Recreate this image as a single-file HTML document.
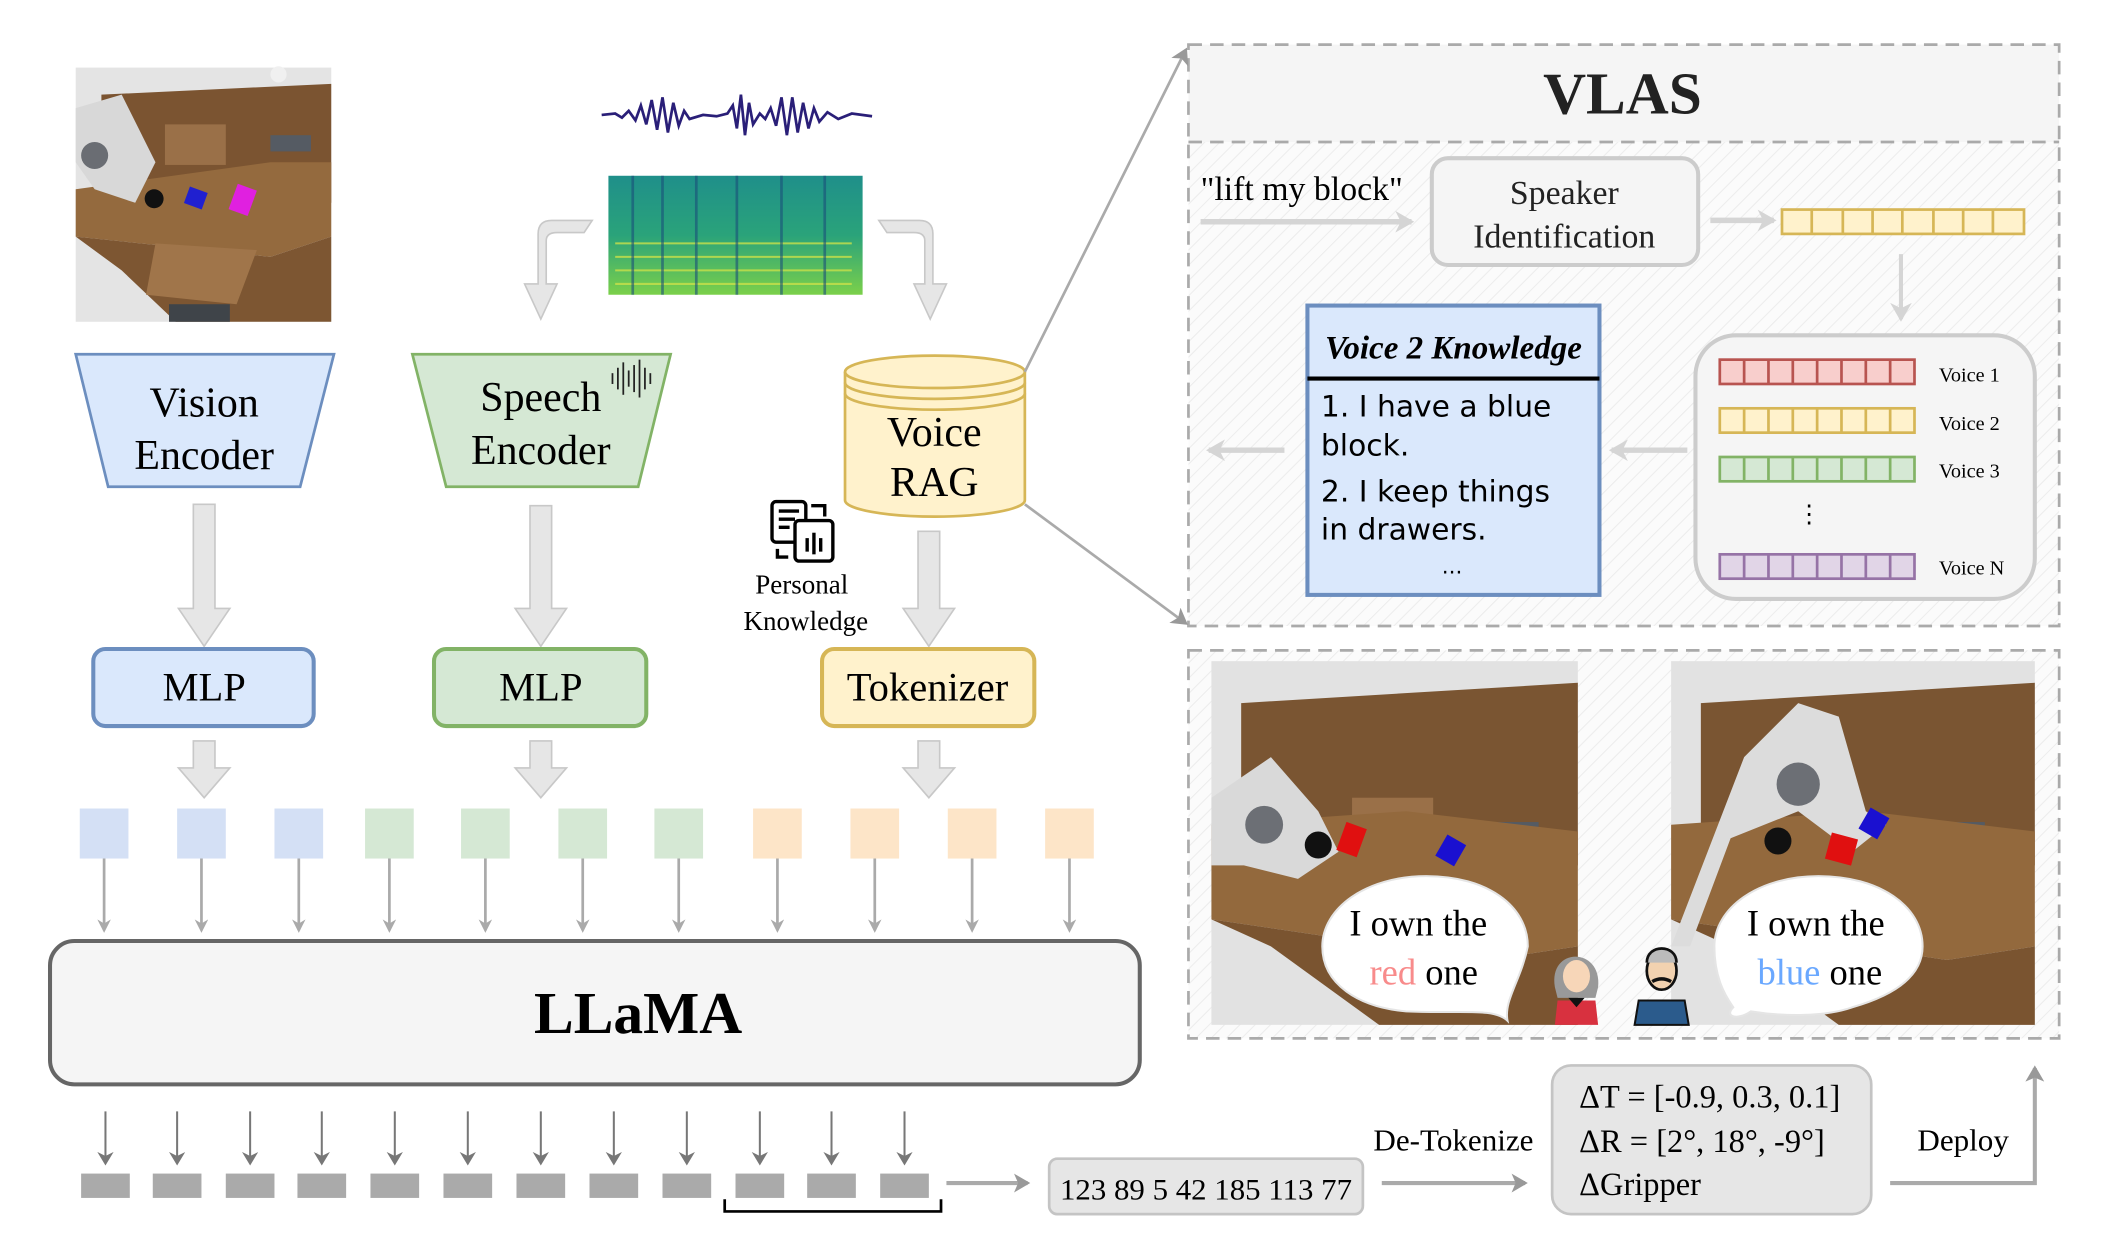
<!DOCTYPE html>
<html><head><meta charset="utf-8"><style>
html,body{margin:0;padding:0;background:#fff;}
svg{display:block;}
text{font-family:"Liberation Serif",serif;}
</style></head><body>
<svg width="2120" height="1252" viewBox="0 0 1568 926" preserveAspectRatio="none" xmlns="http://www.w3.org/2000/svg">
<defs>
<pattern id="hatch" width="8" height="8" patternUnits="userSpaceOnUse" patternTransform="rotate(45)">
<rect width="8" height="8" fill="#fbfbfb"/><line x1="0" y1="0" x2="0" y2="8" stroke="#ececec" stroke-width="1.5"/>
</pattern>
<linearGradient id="spec" x1="0" y1="0" x2="0" y2="1">
<stop offset="0" stop-color="#1f8f8a"/><stop offset="0.5" stop-color="#2aa37a"/><stop offset="1" stop-color="#7bd04a"/>
</linearGradient>
<marker id="ah" markerWidth="10" markerHeight="10" refX="8" refY="5" orient="auto" markerUnits="userSpaceOnUse"><path d="M0,0 L10,5 L0,10 L3,5 Z" fill="#aaa"/></marker>
<marker id="ahd" markerWidth="10" markerHeight="12" refX="8" refY="6" orient="auto" markerUnits="userSpaceOnUse"><path d="M0,0 L10,6 L0,12 L3,6 Z" fill="#777"/></marker>
<marker id="ahl" markerWidth="16" markerHeight="16" refX="12" refY="8" orient="auto" markerUnits="userSpaceOnUse"><path d="M0,0 L14,8 L0,16 L4,8 Z" fill="#d5d5d5"/></marker>
<marker id="ahm" markerWidth="14" markerHeight="14" refX="10" refY="7" orient="auto" markerUnits="userSpaceOnUse"><path d="M0,0 L12,7 L0,14 L3,7 Z" fill="#999"/></marker>
</defs>

<!-- robot image top left -->
<g>
<rect x="56" y="50" width="189" height="188" fill="#e4e4e4"/>
<polygon points="75,70 245,62 245,150 75,150" fill="#7b5431"/>
<polygon points="56,140 200,120 245,120 245,175 200,190 56,175" fill="#946a3e"/>
<polygon points="56,175 200,190 245,175 245,238 130,238 90,200" fill="#7d5632"/>
<polygon points="115,180 190,185 175,225 108,218" fill="#a0754a"/>
<rect x="122" y="92" width="45" height="30" fill="#9a7048"/>
<rect x="200" y="100" width="30" height="12" fill="#555b63"/>
<rect x="125" y="225" width="45" height="13" fill="#3f4449"/>
<polygon points="56,80 90,70 115,120 100,150 70,140 56,120" fill="#d8d8d8"/>
<circle cx="70" cy="115" r="10" fill="#6a6d73"/>
<circle cx="114" cy="147" r="7" fill="#111"/>
<rect x="138" y="140" width="14" height="13" fill="#2020d0" transform="rotate(20 145 146)"/>
<rect x="172" y="138" width="15" height="20" fill="#e020e0" transform="rotate(20 180 148)"/>
<circle cx="206" cy="55" r="6" fill="#f0f0f0"/>
</g>

<!-- waveform -->
<path d="M445,85 L455,84 L460,87 L465,82 L470,89 L474,78 L478,92 L482,74 L486,96 L490,72 L494,98 L498,76 L502,93 L506,82 L510,88 L520,85 L530,86 L538,84 L542,78 L545,95 L548,70 L551,100 L554,76 L557,92 L562,84 L566,88 L570,80 L574,93 L578,72 L582,100 L586,72 L590,98 L594,76 L598,95 L602,80 L606,90 L612,83 L620,88 L630,84 L645,86" fill="none" stroke="#2a1f78" stroke-width="2"/>
<!-- spectrogram -->
<rect x="450" y="130" width="188" height="88" fill="url(#spec)"/>
<g stroke="#c9e04a" stroke-width="1.5" opacity="0.8">
<line x1="455" y1="200" x2="630" y2="200"/><line x1="455" y1="190" x2="630" y2="190"/><line x1="455" y1="180" x2="630" y2="180"/><line x1="455" y1="210" x2="630" y2="210"/>
</g>
<g stroke="#1a4f7a" stroke-width="2" opacity="0.6">
<line x1="468" y1="130" x2="468" y2="218"/><line x1="490" y1="130" x2="490" y2="218"/><line x1="515" y1="130" x2="515" y2="218"/><line x1="545" y1="130" x2="545" y2="218"/><line x1="578" y1="130" x2="578" y2="218"/><line x1="610" y1="130" x2="610" y2="218"/>
</g>

<!-- curved fat arrows -->
<path d="M438,163 L408,163 Q398,163 398,173 L398,210 L388,210 L400,236 L412,210 L404,210 L404,178 Q404,172 412,172 L432,172 Z" fill="#e6e6e6" stroke="#c8c8c8" stroke-width="1.2"/>
<path d="M650,163 L680,163 Q690,163 690,173 L690,210 L700,210 L688,236 L676,210 L684,210 L684,178 Q684,172 676,172 L656,172 Z" fill="#e6e6e6" stroke="#c8c8c8" stroke-width="1.2"/>

<!-- Vision Encoder -->
<polygon points="56,262 247,262 222,360 80,360" fill="#dae8fc" stroke="#6c8ebf" stroke-width="2"/>
<text x="151" y="308" font-size="31" text-anchor="middle">Vision</text>
<text x="151" y="347" font-size="31" text-anchor="middle">Encoder</text>
<!-- Speech Encoder -->
<polygon points="305,262 496,262 472,360 330,360" fill="#d5e8d4" stroke="#82b366" stroke-width="2"/>
<text x="400" y="304" font-size="31" text-anchor="middle">Speech</text>
<text x="400" y="343" font-size="31" text-anchor="middle">Encoder</text>
<g stroke="#222" stroke-width="1.3">
<line x1="453" y1="276" x2="453" y2="284"/><line x1="457" y1="272" x2="457" y2="288"/><line x1="461" y1="268" x2="461" y2="292"/><line x1="465" y1="274" x2="465" y2="286"/><line x1="469" y1="270" x2="469" y2="290"/><line x1="473" y1="266" x2="473" y2="294"/><line x1="477" y1="272" x2="477" y2="288"/><line x1="481" y1="276" x2="481" y2="284"/>
</g>
<!-- Voice RAG cylinder -->
<path d="M625,275 L625,370 A66,12 0 0 0 758,370 L758,275" fill="#fff2cc" stroke="#d6b656" stroke-width="2"/>
<ellipse cx="691.5" cy="275" rx="66.5" ry="12" fill="#fff2cc" stroke="#d6b656" stroke-width="2"/>
<path d="M625,283 A66.5,12 0 0 0 758,283 M625,291 A66.5,12 0 0 0 758,291" fill="none" stroke="#d6b656" stroke-width="2"/>
<text x="691" y="330" font-size="31" text-anchor="middle">Voice</text>
<text x="691" y="367" font-size="31" text-anchor="middle">RAG</text>
<!-- personal knowledge icon -->
<g fill="none" stroke="#000" stroke-width="2.5">
<rect x="571" y="371" width="25" height="30" rx="3"/>
<rect x="588" y="385" width="28" height="30" rx="3" fill="#fff"/>
<line x1="576" y1="378" x2="591" y2="378"/><line x1="576" y1="384" x2="588" y2="384"/><line x1="576" y1="390" x2="584" y2="390"/>
<line x1="597" y1="398" x2="597" y2="408"/><line x1="602" y1="394" x2="602" y2="410"/><line x1="607" y1="398" x2="607" y2="408"/>
<path d="M600,374 L610,374 L610,382"/><path d="M575,406 L575,412 L583,412"/>
</g>
<text x="593" y="439" font-size="20" text-anchor="middle">Personal</text>
<text x="596" y="466" font-size="20" text-anchor="middle">Knowledge</text>

<!-- fat down arrows -->
<g fill="#e6e6e6" stroke="#c8c8c8" stroke-width="1.2">
<path d="M143,373 L159,373 L159,450 L170,450 L151,478 L132,450 L143,450 Z"/>
<path d="M392,374 L408,374 L408,450 L419,450 L400,478 L381,450 L392,450 Z"/>
<path d="M679,393 L695,393 L695,450 L706,450 L687,478 L668,450 L679,450 Z"/>
<path d="M143,548 L159,548 L159,568 L170,568 L151,590 L132,568 L143,568 Z"/>
<path d="M392,548 L408,548 L408,568 L419,568 L400,590 L381,568 L392,568 Z"/>
<path d="M679,548 L695,548 L695,568 L706,568 L687,590 L668,568 L679,568 Z"/>
</g>

<!-- MLP boxes -->
<rect x="69" y="480" width="163" height="57" rx="9" fill="#dae8fc" stroke="#6c8ebf" stroke-width="3"/>
<text x="151" y="518" font-size="30" text-anchor="middle">MLP</text>
<rect x="321" y="480" width="157" height="57" rx="9" fill="#d5e8d4" stroke="#82b366" stroke-width="3"/>
<text x="400" y="518" font-size="30" text-anchor="middle">MLP</text>
<rect x="608" y="480" width="157" height="57" rx="9" fill="#fff2cc" stroke="#d6b656" stroke-width="3"/>
<text x="686" y="518" font-size="30" text-anchor="middle">Tokenizer</text>

<!-- token squares -->
<g>
<rect x="59" y="598" width="36" height="37" fill="#d4e0f5"/><rect x="131" y="598" width="36" height="37" fill="#d4e0f5"/><rect x="203" y="598" width="36" height="37" fill="#d4e0f5"/>
<rect x="270" y="598" width="36" height="37" fill="#d5e8d4"/><rect x="341" y="598" width="36" height="37" fill="#d5e8d4"/><rect x="413" y="598" width="36" height="37" fill="#d5e8d4"/><rect x="484" y="598" width="36" height="37" fill="#d5e8d4"/>
<rect x="557" y="598" width="36" height="37" fill="#fde5c8"/><rect x="629" y="598" width="36" height="37" fill="#fde5c8"/><rect x="701" y="598" width="36" height="37" fill="#fde5c8"/><rect x="773" y="598" width="36" height="37" fill="#fde5c8"/>
</g>
<g stroke="#aaa" stroke-width="2" marker-end="url(#ah)">
<line x1="77" y1="635" x2="77" y2="688"/><line x1="149" y1="635" x2="149" y2="688"/><line x1="221" y1="635" x2="221" y2="688"/>
<line x1="288" y1="635" x2="288" y2="688"/><line x1="359" y1="635" x2="359" y2="688"/><line x1="431" y1="635" x2="431" y2="688"/><line x1="502" y1="635" x2="502" y2="688"/>
<line x1="575" y1="635" x2="575" y2="688"/><line x1="647" y1="635" x2="647" y2="688"/><line x1="719" y1="635" x2="719" y2="688"/><line x1="791" y1="635" x2="791" y2="688"/>
</g>

<!-- LLaMA -->
<rect x="37" y="696" width="806" height="106" rx="18" fill="#f5f5f5" stroke="#666" stroke-width="3"/>
<text x="472" y="764" font-size="44" font-weight="bold" text-anchor="middle">LLaMA</text>

<!-- output arrows -->
<g stroke="#777" stroke-width="1.5" marker-end="url(#ahd)">
<line x1="78" y1="822" x2="78" y2="860"/><line x1="131" y1="822" x2="131" y2="860"/><line x1="185" y1="822" x2="185" y2="860"/><line x1="238" y1="822" x2="238" y2="860"/><line x1="292" y1="822" x2="292" y2="860"/><line x1="346" y1="822" x2="346" y2="860"/><line x1="400" y1="822" x2="400" y2="860"/><line x1="454" y1="822" x2="454" y2="860"/><line x1="508" y1="822" x2="508" y2="860"/><line x1="562" y1="822" x2="562" y2="860"/><line x1="615" y1="822" x2="615" y2="860"/><line x1="669" y1="822" x2="669" y2="860"/>
</g>
<g fill="#aaa">
<rect x="60" y="868" width="36" height="18"/><rect x="113" y="868" width="36" height="18"/><rect x="167" y="868" width="36" height="18"/><rect x="220" y="868" width="36" height="18"/><rect x="274" y="868" width="36" height="18"/><rect x="328" y="868" width="36" height="18"/><rect x="382" y="868" width="36" height="18"/><rect x="436" y="868" width="36" height="18"/><rect x="490" y="868" width="36" height="18"/><rect x="544" y="868" width="36" height="18"/><rect x="597" y="868" width="36" height="18"/><rect x="651" y="868" width="36" height="18"/>
</g>
<path d="M536,887 L536,896 L696,896 L696,887" fill="none" stroke="#000" stroke-width="2"/>
<line x1="700" y1="875" x2="760" y2="875" stroke="#aaa" stroke-width="3" marker-end="url(#ahm)"/>
<rect x="776" y="857" width="232" height="41" rx="6" fill="#e6e6e6" stroke="#c4c4c4" stroke-width="2"/>
<text x="892" y="887" font-size="22" text-anchor="middle" textLength="216" lengthAdjust="spacingAndGlyphs">123 89 5 42 185 113 77</text>
<text x="1075" y="851" font-size="23" text-anchor="middle">De-Tokenize</text>
<line x1="1022" y1="875" x2="1128" y2="875" stroke="#aaa" stroke-width="3" marker-end="url(#ahm)"/>
<rect x="1148" y="788" width="236" height="110" rx="14" fill="#e6e6e6" stroke="#c4c4c4" stroke-width="2"/>
<text x="1168" y="819" font-size="24">ΔT = [-0.9, 0.3, 0.1]</text>
<text x="1168" y="852" font-size="24">ΔR = [2°, 18°, -9°]</text>
<text x="1168" y="884" font-size="24">ΔGripper</text>
<text x="1452" y="851" font-size="23" text-anchor="middle">Deploy</text>
<path d="M1398,875 L1505,875 L1505,790" fill="none" stroke="#aaa" stroke-width="3" marker-end="url(#ahm)"/>

<!-- VLAS panel -->
<rect x="879" y="105" width="644" height="358" fill="url(#hatch)"/>
<rect x="879" y="33" width="644" height="72" fill="#f5f5f5"/>
<rect x="879" y="33" width="644" height="430" fill="none" stroke="#aaa" stroke-width="2" stroke-dasharray="10,6"/>
<line x1="879" y1="105" x2="1523" y2="105" stroke="#aaa" stroke-width="2" stroke-dasharray="10,6"/>
<text x="1200" y="84" font-size="44" font-weight="bold" text-anchor="middle" fill="#222">VLAS</text>
<line x1="758" y1="275" x2="877" y2="37" stroke="#aaa" stroke-width="2" marker-end="url(#ahm)"/>
<line x1="758" y1="373" x2="877" y2="461" stroke="#aaa" stroke-width="2" marker-end="url(#ahm)"/>

<text x="888" y="148" font-size="25">"lift my block"</text>
<line x1="888" y1="164" x2="1044" y2="164" stroke="#d5d5d5" stroke-width="4" marker-end="url(#ahl)"/>
<rect x="1059" y="117" width="197" height="79" rx="12" fill="#f5f5f5" stroke="#ccc" stroke-width="3"/>
<text x="1157" y="151" font-size="25" text-anchor="middle" fill="#222">Speaker</text>
<text x="1157" y="183" font-size="25" text-anchor="middle" fill="#222">Identification</text>
<line x1="1265" y1="163" x2="1312" y2="163" stroke="#d5d5d5" stroke-width="4" marker-end="url(#ahl)"/>
<g stroke="#d6b656" stroke-width="2" fill="#fff2cc">
<rect x="1318" y="155" width="179" height="18"/>
<path d="M1340,155 V173 M1363,155 V173 M1385,155 V173 M1407,155 V173 M1430,155 V173 M1452,155 V173 M1474,155 V173"/>
</g>
<line x1="1406" y1="188" x2="1406" y2="236" stroke="#d5d5d5" stroke-width="3" marker-end="url(#ahl)"/>

<rect x="1254" y="248" width="251" height="195" rx="30" fill="#f5f5f5" stroke="#ccc" stroke-width="3"/>
<g stroke-width="2">
<g stroke="#b85450" fill="#f8cecc"><rect x="1272" y="266" width="144" height="18"/><path d="M1290,266 V284 M1308,266 V284 M1326,266 V284 M1344,266 V284 M1362,266 V284 M1380,266 V284 M1398,266 V284"/></g>
<g stroke="#d6b656" fill="#fff2cc"><rect x="1272" y="302" width="144" height="18"/><path d="M1290,302 V320 M1308,302 V320 M1326,302 V320 M1344,302 V320 M1362,302 V320 M1380,302 V320 M1398,302 V320"/></g>
<g stroke="#82b366" fill="#d5e8d4"><rect x="1272" y="338" width="144" height="18"/><path d="M1290,338 V356 M1308,338 V356 M1326,338 V356 M1344,338 V356 M1362,338 V356 M1380,338 V356 M1398,338 V356"/></g>
<g stroke="#9673a6" fill="#e1d5e7"><rect x="1272" y="410" width="144" height="18"/><path d="M1290,410 V428 M1308,410 V428 M1326,410 V428 M1344,410 V428 M1362,410 V428 M1380,410 V428 M1398,410 V428"/></g>
</g>
<text x="1434" y="282" font-size="15">Voice 1</text>
<text x="1434" y="318" font-size="15">Voice 2</text>
<text x="1434" y="353" font-size="15">Voice 3</text>
<text x="1434" y="425" font-size="15">Voice N</text>
<text x="1338" y="386" font-size="18" text-anchor="middle">⋮</text>
<line x1="1248" y1="333" x2="1192" y2="333" stroke="#d5d5d5" stroke-width="4" marker-end="url(#ahl)"/>

<rect x="967" y="226" width="216" height="214" fill="#dae8fc" stroke="#6c8ebf" stroke-width="3"/>
<text x="1075" y="265" font-size="24" font-style="italic" font-weight="bold" text-anchor="middle" textLength="190" lengthAdjust="spacingAndGlyphs">Voice 2 Knowledge</text>
<line x1="967" y1="280" x2="1183" y2="280" stroke="#000" stroke-width="3"/>
<g font-size="22">
<text x="977" y="308" style="font-family:'DejaVu Sans',sans-serif">1. I have a blue</text>
<text x="977" y="337" style="font-family:'DejaVu Sans',sans-serif">block.</text>
<text x="977" y="371" style="font-family:'DejaVu Sans',sans-serif">2. I keep things</text>
<text x="977" y="399" style="font-family:'DejaVu Sans',sans-serif">in drawers.</text>
<text x="1074" y="424" font-size="16" text-anchor="middle" style="font-family:'DejaVu Sans',sans-serif">...</text>
</g>
<line x1="950" y1="333" x2="894" y2="333" stroke="#d5d5d5" stroke-width="4" marker-end="url(#ahl)"/>

<!-- bottom panel -->
<rect x="879" y="481" width="644" height="287" fill="url(#hatch)" stroke="#aaa" stroke-width="2" stroke-dasharray="10,6"/>
<!-- scene 1 -->
<g>
<rect x="896" y="489" width="271" height="269" fill="#e2e2e2"/>
<polygon points="918,520 1167,505 1167,640 918,640" fill="#7a5532"/>
<rect x="1000" y="590" width="60" height="40" fill="#9a7048"/>
<rect x="1100" y="608" width="38" height="15" fill="#555b63"/>
<polygon points="896,610 1040,600 1167,615 1167,700 1100,710 896,680" fill="#93693d"/>
<polygon points="896,680 1100,710 1167,700 1167,758 1020,758 940,700" fill="#7a5430"/>
<polygon points="896,590 940,560 975,600 990,630 960,650 920,640 896,640" fill="#d9d9d9"/>
<circle cx="935" cy="610" r="14" fill="#6c6f75"/>
<circle cx="975" cy="625" r="10" fill="#111"/>
<rect x="992" y="610" width="16" height="22" fill="#e01010" transform="rotate(20 1000 620)"/>
<rect x="1065" y="620" width="16" height="18" fill="#1a10d0" transform="rotate(30 1073 629)"/>
</g>
<!-- scene 2 -->
<g>
<rect x="1236" y="489" width="269" height="269" fill="#e2e2e2"/>
<polygon points="1258,520 1505,505 1505,640 1258,640" fill="#7a5532"/>
<rect x="1430" y="608" width="38" height="15" fill="#555b63"/>
<polygon points="1236,610 1380,600 1505,615 1505,700 1440,710 1236,680" fill="#93693d"/>
<polygon points="1236,680 1440,710 1505,700 1505,758 1360,758 1280,700" fill="#7a5430"/>
<polygon points="1236,700 1290,560 1330,520 1360,530 1380,600 1395,610 1370,630 1330,600 1280,620 1250,700" fill="#dcdcdc"/>
<circle cx="1330" cy="580" r="16" fill="#6c6f75"/>
<circle cx="1315" cy="622" r="10" fill="#111"/>
<rect x="1352" y="618" width="20" height="20" fill="#e01010" transform="rotate(15 1362 628)"/>
<rect x="1378" y="600" width="16" height="18" fill="#1a10d0" transform="rotate(30 1386 609)"/>
</g>
<!-- bubbles -->
<path d="M1055,648 C1010,648 978,672 978,700 C978,728 1005,745 1040,748 C1080,750 1105,745 1115,755 C1112,740 1125,725 1130,700 C1130,670 1100,648 1055,648 Z" fill="#fff" stroke="#e5e5e5" stroke-width="1.5"/>
<text x="1049" y="692" font-size="27" text-anchor="middle">I own the</text>
<text x="1053" y="728" font-size="27" text-anchor="middle"><tspan fill="#f88b8b">red</tspan> one</text>
<path d="M1345,648 C1300,648 1268,672 1268,700 C1268,722 1275,735 1282,745 C1275,752 1285,755 1295,748 C1320,752 1350,752 1370,745 C1405,735 1422,720 1422,700 C1422,670 1390,648 1345,648 Z" fill="#fff" stroke="#e5e5e5" stroke-width="1.5"/>
<text x="1343" y="692" font-size="27" text-anchor="middle">I own the</text>
<text x="1346" y="728" font-size="27" text-anchor="middle"><tspan fill="#6aa8ff">blue</tspan> one</text>
<!-- people -->
<g>
<path d="M1150,730 C1145,700 1185,700 1182,730 L1180,738 L1152,738 Z" fill="#999"/>
<ellipse cx="1166" cy="722" rx="10" ry="12" fill="#f7d6b8"/>
<path d="M1152,740 L1180,740 L1182,758 L1150,758 Z" fill="#d8313f"/>
<path d="M1160,738 L1172,738 L1166,745 Z" fill="#111"/>
<ellipse cx="1229" cy="718" rx="11" ry="14" fill="#f2d2b0" stroke="#111" stroke-width="2"/>
<path d="M1218,712 C1218,698 1240,698 1240,712" fill="#bbb" stroke="#111" stroke-width="2"/>
<path d="M1222,726 Q1229,722 1236,726" stroke="#111" stroke-width="2.5" fill="none"/>
<path d="M1212,740 L1246,740 L1249,758 L1209,758 Z" fill="#2b5b8c" stroke="#111" stroke-width="1.5"/>
</g>
</svg>
</body></html>
